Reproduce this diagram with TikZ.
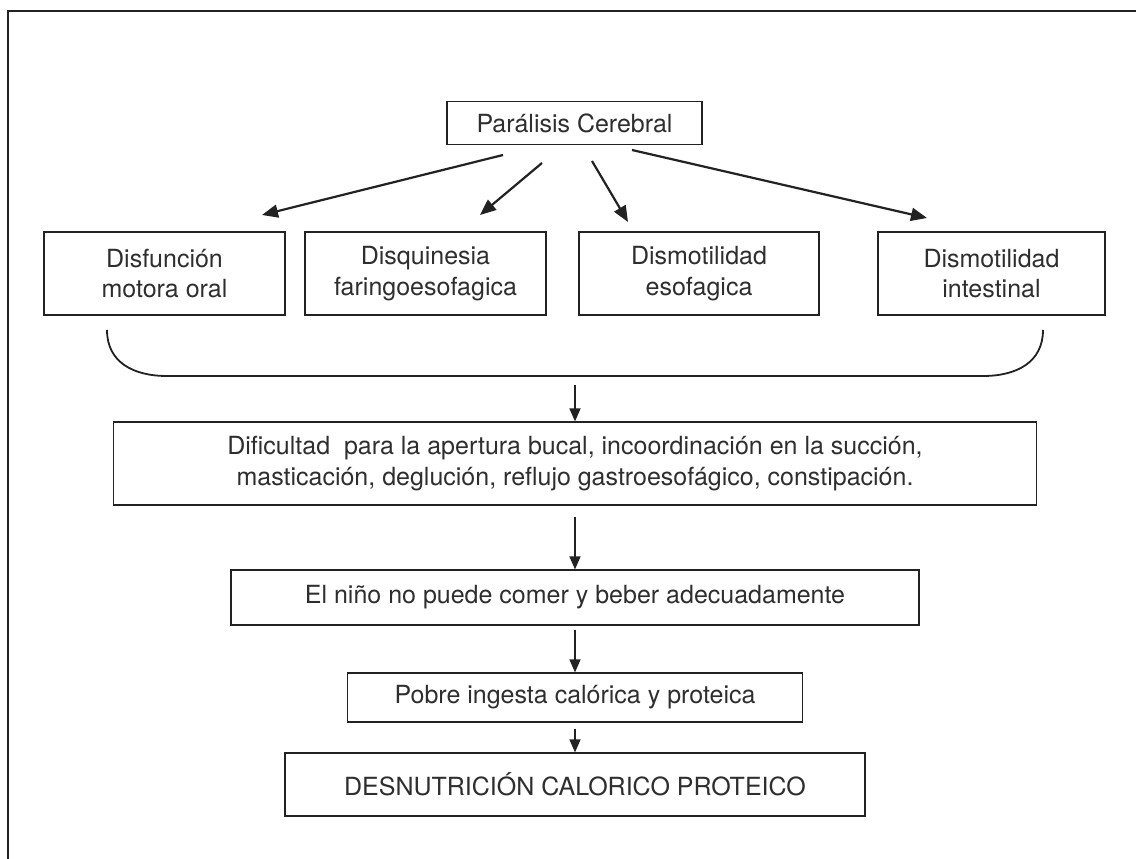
\documentclass[tikz,border=0pt]{standalone}
\usepackage{fontspec}
\setmainfont{TeX Gyre Heros}
\usetikzlibrary{arrows.meta}
\definecolor{ink}{HTML}{222222}
\definecolor{txt}{HTML}{2E2E2E}
\begin{document}
\begin{tikzpicture}[x=1pt,y=-1pt,
  box/.style={draw=ink, line width=1.2pt, inner sep=0pt, align=center, text=txt,
              font=\fontsize{25}{30.5}\selectfont},
  bigarrow/.style={draw=ink, line width=2.2pt, -{Triangle[length=16pt,width=13pt]}},
  smallarrow/.style={draw=ink, line width=1.6pt, -{Triangle[length=13pt,width=11pt]}},
  bracketline/.style={draw=ink, line width=1.8pt}]
\useasboundingbox (0,0) rectangle (1136,859);
\fill[white] (0,0) rectangle (1136,859);
% frame
\draw[ink, line width=2pt] (8,859) -- (8,11) -- (1136,11);

% nodes
\node[box, minimum width=255pt, minimum height=43pt] (pc) at (574.5,123) {Parálisis Cerebral};
\node[box, minimum width=241pt, minimum height=83pt] (b1) at (164.5,273.5) {Disfunción\\motora oral};
\node[box, minimum width=241pt, minimum height=83pt] (b2) at (425.5,273.5) {Disquinesia\\faringoesofagica};
\node[box, minimum width=240pt, minimum height=83pt] (b3) at (699,273.5) {Dismotilidad\\esofagica};
\node[box, minimum width=227pt, minimum height=83pt] (b4) at (991.5,273.5) {Dismotilidad\\intestinal};
\node[box, minimum width=923pt, minimum height=83pt] (dif) at (575,463.5)
  {Dificultad\ \ para la apertura bucal, incoordinación en la succión,\\masticación, deglución, reflujo gastroesofágico, constipación.};
\node[box, minimum width=688pt, minimum height=55pt] (nino) at (575,597.5) {El niño no puede comer y beber adecuadamente};
\node[box, minimum width=455pt, minimum height=49pt] (pobre) at (575,697.5) {Pobre ingesta calórica y proteica};
\node[box, minimum width=580pt, minimum height=63pt] (desn) at (575,784.5) {DESNUTRICIÓN CALORICO PROTEICO};

% arrows from top box
\coordinate (s1) at (503,155); \coordinate (e1) at (262,215);
\coordinate (s2) at (542,163); \coordinate (e2) at (480,215);
\coordinate (s3) at (592,161); \coordinate (e3) at (628,222);
\coordinate (s4) at (632,150); \coordinate (e4) at (927,218);
\draw[bigarrow] (s1) -- (e1);
\draw[bigarrow] (s2) -- (e2);
\draw[bigarrow] (s3) -- (e3);
\draw[bigarrow] (s4) -- (e4);

% bracket
\coordinate (bl) at (107,330);
\coordinate (br) at (1043,330);
\draw[bracketline] (bl) .. controls (107,362) and (133,376) .. (167,376)
  -- (983,376) .. controls (1017,376) and (1043,362) .. (br);

% vertical arrows
\coordinate (bk) at (575,385);
\draw[smallarrow] (bk) -- (dif.north);
\draw[smallarrow, shorten <=11pt] (dif.south) -- (nino.north);
\draw[smallarrow, shorten <=4pt] (nino.south) -- (pobre.north);
\draw[smallarrow, shorten <=6pt] (pobre.south) -- (desn.north);
\end{tikzpicture}
\end{document}
